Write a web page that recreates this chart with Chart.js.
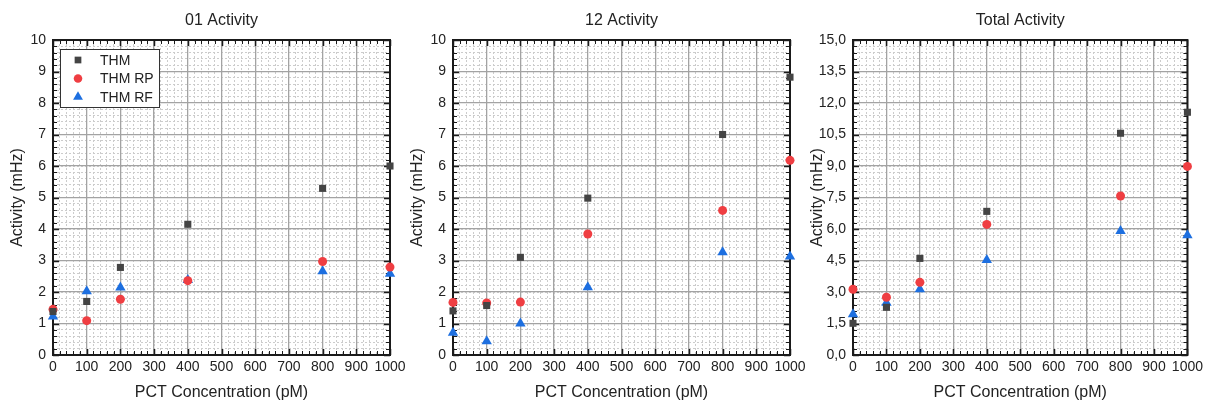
<!DOCTYPE html>
<html><head><meta charset="utf-8">
<script src="https://cdn.jsdelivr.net/npm/chart.js@4.4.1/dist/chart.umd.min.js"></script>
<style>
html,body{margin:0;padding:0;background:#fff;}
#wrap{position:relative;width:1207px;height:403px;overflow:hidden;background:#fff;}
canvas{position:absolute;top:0;}
</style></head><body>
<div id="wrap">
<canvas id="c1" width="420" height="403" style="left:0px"></canvas>
<canvas id="c2" width="420" height="403" style="left:400px"></canvas>
<canvas id="c3" width="407" height="403" style="left:800px"></canvas>
</div>
<script>
// ---- data ----
const concentrations = [0, 100, 200, 400, 800, 1000];
const seriesNames = ['THM', 'THM RP', 'THM RF'];
const panelTitles = ['01 Activity', '12 Activity', 'Total Activity'];
const act01_THM = [1.38, 1.70, 2.78, 4.15, 5.29, 6.00];
const act01_RP  = [1.45, 1.09, 1.77, 2.36, 2.97, 2.79];
const act01_RF  = [1.22, 2.02, 2.14, 2.38, 2.66, 2.58];
const act12_THM = [1.40, 1.57, 3.10, 4.98, 7.00, 8.82];
const act12_RP  = [1.67, 1.65, 1.68, 3.84, 4.59, 6.18];
const act12_RF  = [0.71, 0.44, 1.00, 2.15, 3.26, 3.13];
const tot_THM   = [1.51, 2.27, 4.60, 6.84, 10.56, 11.56];
const tot_RP    = [3.13, 2.75, 3.46, 6.22, 7.57, 8.98];
const tot_RF    = [1.94, 2.49, 3.13, 4.52, 5.90, 5.70];
const xTickLabels = ['0','100','200','300','400','500','600','700','800','900','1000'];
const yTickLabels10 = ['0','1','2','3','4','5','6','7','8','9','10'];
const yTickLabelsTotal = ['0,0','1,5','3,0','4,5','6,0','7,5','9,0','10,5','12,0','13,5','15,0'];

// ---- styles ----
const FONT = "'Liberation Sans', Arial, Helvetica, sans-serif";
Chart.defaults.font.family = FONT;
Chart.defaults.color = '#222';
const seriesStyles = [
  {pointStyle: 'rect', radius: 5, color: '#444444'},
  {pointStyle: 'circle', radius: 4.5, color: '#ef3e42'},
  {pointStyle: 'triangle', radius: 6, color: '#1d6fe0'}
];
const MAJOR_GRID = '#a3a3a3';
const MINOR_GRID = '#cccccc';

const frameTicksPlugin = {
  id: 'frameTicks',
  beforeDatasetsDraw(chart) {
    const {ctx, chartArea} = chart;
    const {left, right, top, bottom} = chartArea;
    const s = chart.scales;
    ctx.save();
    ctx.strokeStyle = '#1a1a1a';
    ctx.lineWidth = 1;
    const line = (x1, y1, x2, y2) => { ctx.beginPath(); ctx.moveTo(x1, y1); ctx.lineTo(x2, y2); ctx.stroke(); };
    const ticks = (scale, len, horiz) => {
      scale.ticks.forEach(t => {
        const p = Math.round(scale.getPixelForValue(t.value)) + 0.5;
        if (horiz) { line(p, bottom, p, bottom - len); line(p, top, p, top + len); }
        else { line(left, p, left + len, p); line(right, p, right - len, p); }
      });
    };
    ticks(s.xm, 4, true);
    ticks(s.ym, 4, false);
    ctx.lineWidth = 1.5;
    ticks(s.x, 6, true);
    ticks(s.y, 6, false);
    ctx.lineWidth = 2;
    ctx.strokeRect(left, top, right - left, bottom - top);
    ctx.restore();
  }
};

const boxLegendPlugin = {
  id: 'boxLegend',
  afterDraw(chart, args, opts) {
    if (!opts.show) return;
    const {ctx, chartArea} = chart;
    const x0 = chartArea.left + 7, y0 = chartArea.top + 9;
    const w = 99, h = 58;
    ctx.save();
    ctx.fillStyle = '#fff';
    ctx.fillRect(x0, y0, w, h);
    ctx.strokeStyle = '#333';
    ctx.lineWidth = 1;
    ctx.strokeRect(x0 + 0.5, y0 + 0.5, w, h);
    ctx.font = '14px ' + FONT;
    ctx.textBaseline = 'middle';
    ctx.textAlign = 'left';
    seriesNames.forEach((name, i) => {
      const cy = y0 + 11 + i * 18.5;
      const st = seriesStyles[i];
      ctx.fillStyle = st.color;
      ctx.strokeStyle = st.color;
      Chart.helpers.drawPoint(ctx, {pointStyle: st.pointStyle, radius: st.radius * 0.95, borderWidth: 0}, x0 + 18, cy);
      ctx.fillStyle = '#222';
      ctx.fillText(name, x0 + 40, cy + 1);
    });
    ctx.restore();
  }
};

function makeChart(id, title, series, yMax, yStep, yMinor, yLabels, padRight, showLegend) {
  const datasets = series.map((vals, i) => ({
    label: seriesNames[i],
    data: concentrations.map((x, j) => ({x: x, y: vals[j]})),
    pointStyle: seriesStyles[i].pointStyle,
    pointRadius: seriesStyles[i].radius,
    pointBackgroundColor: seriesStyles[i].color,
    pointBorderColor: seriesStyles[i].color,
    pointBorderWidth: 0,
    showLine: false,
    clip: false
  }));
  return new Chart(document.getElementById(id), {
    type: 'scatter',
    data: {datasets},
    plugins: [frameTicksPlugin, boxLegendPlugin],
    options: {
      responsive: false,
      animation: false,
      devicePixelRatio: 1,
      layout: {padding: {left: 0, top: 0, right: padRight, bottom: 0}},
      plugins: {
        legend: {display: false},
        tooltip: {enabled: false},
        boxLegend: {show: showLegend},
        title: {
          display: true, text: title, fullSize: false,
          font: {size: 16, weight: 'normal'}, color: '#222',
          padding: {top: 11, bottom: 9.8}
        }
      },
      scales: {
        xm: {
          type: 'linear', position: 'bottom', min: 0, max: 1000, z: -2,
          ticks: {display: false, stepSize: 20, maxTicksLimit: 200, autoSkip: false},
          grid: {color: MINOR_GRID, lineWidth: 1, drawTicks: false},
          border: {display: false, dash: [2, 2]},
          afterFit(s) { s.height = 0; }
        },
        ym: {
          type: 'linear', position: 'left', min: 0, max: yMax, z: -2,
          ticks: {display: false, stepSize: yMinor, maxTicksLimit: 200, autoSkip: false},
          grid: {color: MINOR_GRID, lineWidth: 1, drawTicks: false},
          border: {display: false, dash: [2, 2]},
          afterFit(s) { s.width = 0; }
        },
        x: {
          type: 'linear', position: 'bottom', min: 0, max: 1000, z: -1,
          ticks: {stepSize: 100, maxTicksLimit: 100, autoSkip: false, maxRotation: 0, padding: 4,
                  font: {size: 14}, color: '#222',
                  callback: (v, i) => xTickLabels[i]},
          grid: {color: MAJOR_GRID, lineWidth: 1.3, drawTicks: false},
          border: {display: false},
          title: {display: true, text: 'PCT Concentration (pM)', font: {size: 16}, color: '#222',
                  padding: {top: 0, bottom: 1}},
          afterFit(s) { s.height = 48; }
        },
        y: {
          type: 'linear', position: 'left', min: 0, max: yMax, z: -1,
          ticks: {stepSize: yStep, maxTicksLimit: 100, autoSkip: false, padding: 7,
                  font: {size: 14}, color: '#222',
                  callback: (v, i) => yLabels[i]},
          grid: {color: MAJOR_GRID, lineWidth: 1.3, drawTicks: false},
          border: {display: false},
          title: {display: true, text: 'Activity (mHz)', font: {size: 16}, color: '#222',
                  padding: {top: 8, bottom: 0}},
          afterFit(s) { s.width = 53; }
        }
      }
    }
  });
}

makeChart('c1', panelTitles[0], [act01_THM, act01_RP, act01_RF], 10, 1, 0.2, yTickLabels10, 30, true);
makeChart('c2', panelTitles[1], [act12_THM, act12_RP, act12_RF], 10, 1, 0.2, yTickLabels10, 30, false);
makeChart('c3', panelTitles[2], [tot_THM, tot_RP, tot_RF], 15, 1.5, 0.3, yTickLabelsTotal, 17, false);
</script>
</body></html>
